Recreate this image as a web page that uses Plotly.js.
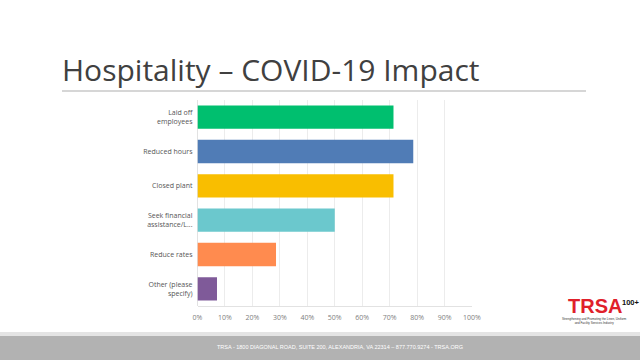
<!DOCTYPE html>
<html>
<head>
<meta charset="utf-8">
<script src="https://cdn.plot.ly/plotly-3.0.1.min.js"></script>
<style>
html,body{margin:0;padding:0;background:#fff;}
#chart{width:640px;height:360px;}
</style>
</head>
<body>
<div id="chart"></div>
<script>
const categories = ["Laid off<br>employees", "Reduced hours", "Closed plant", "Seek financial<br>assistance/L...", "Reduce rates", "Other (please<br>specify)"];
const values = [71.4, 78.6, 71.4, 50.0, 28.6, 7.1];
const tickValues = [0, 10, 20, 30, 40, 50, 60, 70, 80, 90, 100];
const tickLabels = ["0%", "10%", "20%", "30%", "40%", "50%", "60%", "70%", "80%", "90%", "100%"];
const barColors = ["#00bf6f", "#507cb6", "#f9be00", "#6bc8cd", "#ff8b4f", "#7f5a99"];

const W = 640, H = 360;
const px = x => x / W;
const py = y => 1 - y / H;

const trace = {
  type: "bar",
  orientation: "h",
  y: categories,
  x: values,
  marker: {color: barColors, line: {width: 0}},
  hoverinfo: "skip"
};

const layout = {
  width: W, height: H,
  margin: {l: 0, r: 0, t: 0, b: 0},
  paper_bgcolor: "#ffffff",
  plot_bgcolor: "#ffffff",
  showlegend: false,
  bargap: 0.32,
  xaxis: {
    domain: [px(197.5), px(472)],
    range: [0, 100],
    tickvals: tickValues,
    ticktext: tickLabels,
    showgrid: true,
    gridcolor: "#ececec",
    gridwidth: 1,
    zeroline: true,
    zerolinecolor: "#e2e2e2",
    showline: true,
    linecolor: "#e2e2e2",
    ticks: "",
    ticklabelstandoff: 5,
    tickfont: {family: "Open Sans, sans-serif", size: 7, color: "#808080"},
    fixedrange: true
  },
  yaxis: {
    domain: [py(306), py(100)],
    autorange: "reversed",
    showgrid: false,
    zeroline: false,
    ticks: "",
    ticklabelstandoff: 4,
    tickfont: {family: "Open Sans, sans-serif", size: 7, color: "#555"},
    fixedrange: true
  },
  shapes: [
    {type: "line", xref: "paper", yref: "paper", x0: px(62), x1: px(586), y0: py(91), y1: py(91), line: {color: "#c8c8c8", width: 1.5}},
    {type: "rect", xref: "paper", yref: "paper", x0: 0, x1: 1, y0: py(336), y1: py(332), fillcolor: "#e4e4e4", line: {width: 0}},
    {type: "rect", xref: "paper", yref: "paper", x0: 0, x1: 1, y0: 0, y1: py(336), fillcolor: "#b2b2b2", line: {width: 0}}
  ],
  annotations: [
    {xref: "paper", yref: "paper", x: px(60), y: py(70), xanchor: "left", yanchor: "middle", showarrow: false,
     text: "Hospitality – COVID-19 Impact", font: {family: "Open Sans, sans-serif", size: 30, color: "#404040"}},
    {xref: "paper", yref: "paper", x: px(340), y: py(347), xanchor: "center", yanchor: "middle", showarrow: false,
     text: "TRSA - 1800 DIAGONAL ROAD, SUITE 200, ALEXANDRIA, VA 22314 – 877.770.9274 - TRSA.ORG",
     font: {family: "Liberation Sans, Arial, sans-serif", size: 5.5, color: "#ffffff"}},
    {xref: "paper", yref: "paper", x: px(567), y: py(306), xanchor: "left", yanchor: "middle", showarrow: false, borderpad: 0,
     text: "<b>TRSA</b>", font: {family: "Liberation Sans Narrow, Liberation Sans, sans-serif", size: 20, color: "#e0202a"}},
    {xref: "paper", yref: "paper", x: px(621), y: py(302), xanchor: "left", yanchor: "middle", showarrow: false, borderpad: 0,
     text: "<b>100+</b>", font: {family: "Liberation Sans Narrow, Liberation Sans, sans-serif", size: 7.5, color: "#111"}},
    {xref: "paper", yref: "paper", x: px(594), y: py(321), xanchor: "center", yanchor: "middle", showarrow: false,
     text: "Strengthening and Promoting the Linen, Uniform<br>and Facility Services Industry",
     font: {family: "Liberation Sans, sans-serif", size: 3, color: "#333"}}
  ]
};

Plotly.newPlot("chart", [trace], layout, {staticPlot: true, displayModeBar: false});
</script>
</body>
</html>
